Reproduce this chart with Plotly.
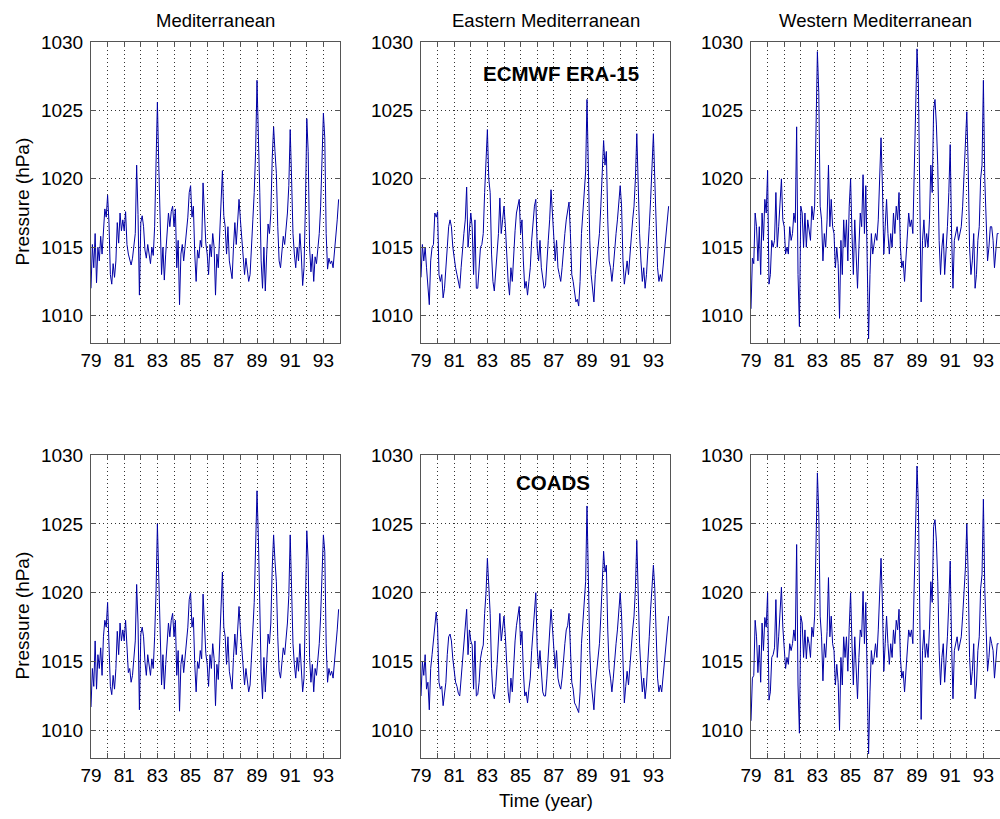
import plotly.graph_objects as go

# ---------------- data (monthly mean sea-level pressure, hPa, Jan 1979 - Dec 1993) ----------------
year_ticks = list(range(79, 95))
year_labels = ["79", "", "81", "", "83", "", "85", "", "87", "", "89", "", "91", "", "93", ""]
pressure_ticks = [1010, 1015, 1020, 1025, 1030]
region_titles = ["Mediterranean", "Eastern Mediterranean", "Western Mediterranean"]
dataset_labels = ["ECMWF ERA-15", "COADS"]

era_med = [
    1012.0, 1015.2, 1013.5, 1016.0, 1012.4, 1015.0, 1014.0, 1015.8, 1014.5, 1016.5, 1017.8, 1017.2,
    1018.8, 1016.8, 1013.0, 1012.3, 1013.8, 1012.8, 1014.0, 1016.8, 1015.3, 1017.5, 1016.2, 1017.0,
    1016.2, 1017.6, 1015.2, 1014.5, 1014.0, 1013.7, 1014.2, 1015.2, 1016.0, 1021.0, 1017.4, 1011.5,
    1016.8, 1017.3, 1016.5, 1014.8, 1014.2, 1015.2, 1014.5, 1013.8, 1015.0, 1014.4, 1016.5, 1020.5,
    1025.6, 1021.0, 1017.5, 1013.0, 1015.0, 1012.6, 1014.5, 1016.0, 1017.5, 1016.5, 1017.6, 1018.0,
    1016.5, 1017.8, 1013.5, 1015.5, 1010.8, 1014.5, 1015.2, 1014.0, 1015.0, 1016.0, 1017.2, 1019.0,
    1019.5, 1017.2, 1018.0, 1014.5, 1012.5, 1014.8, 1014.2, 1015.5, 1015.0, 1019.7, 1017.5, 1015.3,
    1014.5, 1013.0, 1015.2, 1014.3, 1016.0, 1015.0, 1011.5, 1014.5, 1013.5, 1016.0, 1018.0, 1020.6,
    1017.3, 1016.5, 1014.5, 1016.5, 1014.0, 1013.2, 1012.7, 1015.0, 1016.8, 1015.2, 1017.2, 1018.5,
    1017.0, 1015.5, 1014.0, 1013.0, 1014.2, 1013.5, 1012.5, 1013.0, 1015.5, 1017.0, 1019.0, 1022.0,
    1027.2, 1023.8, 1019.0, 1014.0, 1012.0, 1015.0, 1011.8, 1014.5, 1016.7, 1016.0, 1017.5, 1021.5,
    1023.8, 1022.0, 1020.4, 1016.5, 1014.0, 1013.5, 1014.8, 1015.8, 1015.2, 1016.3, 1017.5, 1019.5,
    1023.6, 1020.0, 1016.0, 1014.5, 1013.5, 1015.0, 1014.0, 1016.0, 1014.5, 1012.2, 1013.5, 1018.0,
    1024.4, 1022.0, 1015.0, 1013.2, 1014.5, 1012.5, 1014.3, 1013.8, 1015.0, 1016.0, 1018.0, 1021.0,
    1024.8, 1023.0, 1016.0, 1013.4, 1014.2, 1013.8, 1014.0, 1013.5, 1014.5, 1015.5, 1017.0, 1018.5,
]

era_east = [
    1012.8, 1015.2, 1014.0, 1015.0, 1013.5, 1012.0, 1010.8, 1014.0, 1015.0, 1015.2, 1017.5, 1017.2,
    1017.6, 1013.0, 1012.5, 1013.0, 1011.3, 1012.0, 1013.5, 1015.0, 1016.5, 1017.0, 1016.5, 1015.0,
    1014.0, 1013.5, 1013.0, 1012.5, 1012.0, 1013.5, 1015.0, 1016.0, 1017.0, 1019.4, 1015.0, 1016.5,
    1017.5, 1016.5, 1013.0, 1017.0, 1012.0, 1012.0, 1013.5, 1015.0, 1015.2, 1016.0, 1019.0, 1021.0,
    1023.6, 1020.0, 1019.0, 1014.5, 1012.5, 1011.8, 1013.0, 1014.5, 1016.0, 1018.6, 1016.0, 1017.0,
    1018.0, 1016.5, 1014.0, 1012.5, 1011.5, 1013.5, 1012.5, 1015.0, 1016.2, 1017.5, 1018.0, 1018.5,
    1016.0, 1017.0, 1014.0, 1012.0, 1012.5, 1011.5, 1012.5, 1013.5, 1015.5, 1017.0, 1018.0, 1018.5,
    1015.0, 1014.0, 1015.5, 1013.5, 1012.5, 1012.0, 1012.2, 1013.5, 1015.5, 1017.0, 1019.2, 1017.5,
    1016.0, 1014.0, 1015.5, 1013.5, 1013.0, 1012.5, 1013.5, 1015.0, 1016.0, 1017.0, 1017.8, 1018.3,
    1016.0, 1013.0, 1012.5, 1011.5, 1011.0, 1011.2, 1010.7, 1012.5, 1016.0, 1017.5, 1019.0, 1020.5,
    1025.8, 1019.0, 1015.5, 1013.0, 1012.0, 1011.0, 1013.0, 1014.0, 1015.0, 1016.0, 1018.0, 1020.5,
    1022.8, 1021.0, 1022.0, 1017.0, 1014.0, 1013.5, 1012.5, 1013.5, 1015.0, 1016.0, 1017.0, 1018.5,
    1019.5, 1018.0, 1014.0, 1012.3, 1013.0, 1014.0, 1013.0, 1014.5, 1015.5, 1017.0, 1018.0, 1020.0,
    1023.3, 1019.0, 1016.0, 1014.0, 1012.5, 1013.5, 1012.0, 1013.0, 1014.5, 1016.5, 1018.5, 1020.5,
    1023.3, 1020.0, 1016.0, 1013.5, 1012.5, 1013.0, 1012.5, 1013.5, 1014.5, 1015.5, 1017.0, 1018.0,
]

era_west = [
    1010.5, 1014.2, 1013.8, 1017.5, 1016.5, 1014.0, 1016.5, 1013.0, 1017.5, 1015.5, 1018.5, 1017.5,
    1020.6, 1012.3, 1013.0, 1015.5, 1015.0, 1015.5, 1019.0, 1015.0, 1016.5, 1018.0, 1020.0, 1017.0,
    1016.5, 1014.5, 1015.0, 1014.5, 1016.5, 1015.5, 1016.0, 1017.5, 1016.8, 1023.8, 1013.0, 1009.2,
    1018.0, 1017.5, 1015.0, 1017.5, 1015.0, 1017.0, 1016.0, 1015.5, 1018.0, 1017.0, 1018.0, 1024.0,
    1029.3, 1026.3, 1018.0, 1017.0, 1014.0, 1016.0, 1015.0, 1017.0, 1021.0, 1016.5, 1018.5, 1016.5,
    1016.0, 1013.5, 1015.0, 1013.8, 1009.8, 1015.5, 1013.0, 1017.0, 1015.0, 1017.0, 1014.0, 1018.0,
    1020.0, 1016.0, 1013.0, 1017.0, 1014.0, 1012.0, 1015.0, 1017.5, 1016.5, 1020.3, 1016.0, 1019.5,
    1014.0, 1008.3, 1013.0, 1016.0, 1014.5, 1015.5, 1016.0, 1015.5, 1017.0, 1020.0, 1023.0, 1019.5,
    1014.5, 1016.5, 1018.5, 1016.0, 1014.5, 1016.0, 1015.0, 1017.5, 1016.0, 1018.0, 1017.0, 1019.0,
    1015.0, 1013.5, 1014.0, 1012.5, 1014.0, 1016.0, 1017.5, 1016.5, 1017.0, 1016.0, 1021.0, 1025.0,
    1029.5, 1027.0, 1018.0, 1011.0, 1015.5, 1017.0, 1015.0, 1016.0, 1015.0, 1017.0, 1021.0, 1019.0,
    1025.0, 1025.8, 1024.0, 1021.0, 1015.5, 1013.0, 1015.0, 1016.0, 1013.0, 1014.5, 1016.5, 1019.0,
    1022.5, 1016.0, 1012.0, 1015.5, 1016.0, 1016.5, 1015.5, 1016.0, 1016.5, 1018.0, 1020.0, 1022.0,
    1024.9, 1021.0, 1015.0, 1013.0, 1014.0, 1016.0, 1012.0, 1013.0, 1015.5, 1016.5, 1020.0, 1021.0,
    1027.2, 1020.0, 1017.0, 1014.0, 1015.0, 1016.5, 1016.5, 1015.5, 1013.5, 1015.0, 1016.0, 1016.0,
]

coads_med = [
    1011.7, 1014.5, 1013.2, 1016.5, 1013.0, 1015.5, 1014.5, 1016.0, 1014.0, 1016.8, 1018.0, 1017.5,
    1019.3, 1016.5, 1013.2, 1012.6, 1014.0, 1013.0, 1014.5, 1017.2, 1015.5, 1017.8, 1016.5, 1017.3,
    1016.5, 1018.0, 1015.5, 1014.2, 1014.5, 1013.5, 1014.0, 1015.0, 1016.5, 1020.6, 1017.8, 1011.5,
    1017.0, 1017.5, 1016.8, 1015.0, 1014.0, 1015.5, 1014.8, 1014.0, 1015.2, 1014.5, 1016.8, 1020.0,
    1025.0, 1020.5, 1017.8, 1013.3, 1015.5, 1013.0, 1014.8, 1016.2, 1017.8, 1016.8, 1018.0, 1018.5,
    1016.8, 1018.0, 1014.0, 1015.8, 1011.4, 1014.8, 1015.5, 1014.2, 1015.4, 1016.2, 1017.5, 1019.5,
    1020.0, 1017.5, 1018.2, 1014.8, 1012.8, 1015.0, 1014.5, 1015.8, 1015.2, 1019.9, 1017.8, 1015.6,
    1014.8, 1013.2, 1015.5, 1014.5, 1016.3, 1015.2, 1011.8, 1014.8, 1013.7, 1016.3, 1018.5, 1021.5,
    1017.5, 1016.8, 1014.8, 1016.8, 1014.3, 1013.5, 1013.0, 1015.3, 1017.0, 1015.5, 1017.5, 1019.0,
    1017.3, 1015.8, 1014.3, 1013.3, 1014.5, 1013.8, 1012.8, 1013.3, 1015.8, 1017.3, 1019.3, 1022.5,
    1027.4, 1024.0, 1019.3, 1014.3, 1012.3, 1015.3, 1012.8, 1014.8, 1017.0, 1016.3, 1017.8, 1021.8,
    1024.2, 1022.3, 1020.8, 1016.8, 1014.3, 1013.8, 1015.0, 1016.0, 1015.5, 1016.6, 1017.8, 1019.8,
    1024.2, 1020.3, 1016.3, 1014.8, 1013.8, 1015.3, 1014.3, 1016.3, 1014.8, 1012.8, 1013.8, 1018.3,
    1024.5, 1022.3, 1015.3, 1013.5, 1014.8, 1012.8, 1014.5, 1014.0, 1015.3, 1016.3, 1018.3, 1021.3,
    1024.2, 1023.0, 1016.3, 1013.5, 1014.5, 1014.0, 1014.3, 1013.8, 1014.8, 1015.8, 1017.3, 1018.8,
]

coads_east = [
    1012.5, 1015.0, 1014.0, 1015.5, 1013.0, 1013.5, 1011.5, 1014.5, 1015.5, 1016.5, 1018.0, 1018.6,
    1017.5, 1013.5, 1013.0, 1013.2, 1011.8, 1012.5, 1013.5, 1015.5, 1016.8, 1017.0, 1016.5, 1015.2,
    1014.2, 1013.5, 1013.2, 1012.7, 1012.5, 1013.8, 1015.2, 1016.5, 1017.2, 1018.8, 1015.5, 1017.3,
    1016.5, 1016.2, 1013.0, 1016.5, 1012.5, 1012.6, 1013.5, 1015.2, 1015.8, 1016.2, 1018.5, 1020.0,
    1022.5, 1020.0, 1018.5, 1014.5, 1012.7, 1012.3, 1013.2, 1014.8, 1016.3, 1018.5, 1016.5, 1017.3,
    1018.3, 1016.8, 1014.3, 1012.8, 1012.0, 1013.8, 1012.8, 1015.3, 1016.5, 1017.6, 1018.3, 1019.0,
    1016.2, 1017.2, 1014.3, 1012.5, 1012.8, 1012.0, 1013.0, 1013.8, 1015.8, 1017.3, 1018.3, 1020.0,
    1016.0, 1014.5, 1015.8, 1013.8, 1012.8, 1012.5, 1012.5, 1013.8, 1015.8, 1017.3, 1018.8, 1017.5,
    1016.3, 1014.5, 1015.8, 1013.8, 1013.3, 1013.0, 1013.8, 1015.3, 1016.3, 1017.3, 1017.6, 1018.5,
    1016.3, 1013.5, 1013.0, 1012.0, 1011.8, 1011.5, 1011.3, 1012.8, 1016.3, 1017.8, 1019.3, 1020.8,
    1026.3, 1019.5, 1015.8, 1013.5, 1012.5, 1011.5, 1013.3, 1014.3, 1015.3, 1016.3, 1018.3, 1020.8,
    1023.0, 1021.5, 1022.0, 1017.3, 1014.5, 1013.8, 1012.8, 1013.8, 1015.3, 1016.3, 1017.3, 1018.8,
    1020.0, 1018.3, 1014.3, 1012.0, 1013.2, 1014.3, 1013.3, 1014.8, 1015.8, 1017.3, 1018.3, 1020.3,
    1023.8, 1019.3, 1016.3, 1014.3, 1012.8, 1013.8, 1012.3, 1013.3, 1014.8, 1016.8, 1018.8, 1020.8,
    1022.0, 1020.3, 1016.3, 1013.8, 1012.8, 1013.3, 1012.8, 1013.8, 1014.8, 1015.8, 1017.3, 1018.3,
]

coads_west = [
    1010.7, 1013.8, 1014.0, 1018.0, 1016.8, 1014.2, 1016.2, 1013.5, 1017.8, 1015.8, 1018.2, 1017.5,
    1020.0, 1012.2, 1012.8, 1015.3, 1015.5, 1016.0, 1019.5, 1015.3, 1016.8, 1018.3, 1020.4, 1017.5,
    1016.3, 1014.5, 1015.3, 1014.8, 1016.3, 1015.8, 1016.3, 1017.3, 1016.5, 1023.5, 1013.3, 1009.8,
    1018.3, 1017.8, 1015.3, 1017.3, 1015.2, 1016.8, 1016.3, 1015.3, 1017.5, 1016.8, 1018.3, 1023.8,
    1028.7, 1025.8, 1018.3, 1016.8, 1013.6, 1016.3, 1015.3, 1017.2, 1021.1, 1016.8, 1018.3, 1016.3,
    1015.8, 1013.3, 1014.8, 1013.5, 1010.0, 1015.3, 1013.3, 1016.8, 1015.3, 1016.8, 1014.3, 1017.5,
    1020.0, 1016.3, 1013.3, 1016.8, 1014.3, 1012.3, 1015.3, 1017.3, 1016.8, 1020.1, 1016.3, 1019.3,
    1013.8, 1008.3, 1012.8, 1015.8, 1014.8, 1015.3, 1016.3, 1015.3, 1017.3, 1019.8, 1022.5, 1019.3,
    1014.3, 1016.3, 1018.3, 1016.3, 1014.8, 1016.3, 1015.3, 1017.3, 1016.3, 1018.0, 1017.3, 1018.8,
    1015.3, 1013.8, 1014.3, 1012.8, 1014.3, 1016.3, 1017.3, 1016.8, 1017.3, 1016.3, 1020.8, 1024.8,
    1029.2, 1026.5, 1018.3, 1010.8, 1015.8, 1017.3, 1015.3, 1016.3, 1015.3, 1017.3, 1020.8, 1019.3,
    1024.8, 1025.3, 1023.8, 1020.8, 1015.8, 1013.3, 1015.3, 1016.3, 1013.5, 1014.8, 1016.8, 1019.3,
    1022.3, 1016.3, 1012.3, 1015.8, 1016.3, 1016.8, 1015.8, 1016.3, 1016.8, 1018.3, 1020.3, 1021.8,
    1025.0, 1021.3, 1015.3, 1013.3, 1014.3, 1016.3, 1012.3, 1013.3, 1015.8, 1016.8, 1020.3, 1021.3,
    1026.8, 1020.3, 1017.3, 1014.3, 1015.3, 1016.8, 1016.3, 1015.8, 1013.8, 1015.3, 1016.3, 1016.3,
]

# ---------------- figure ----------------
FONT = "Liberation Sans, Arial, Helvetica, sans-serif"
W, H = 1000, 819

time = [79 + i / 12 for i in range(len(era_med))]
series = [era_med, era_east, era_west, coads_med, coads_east, coads_west]

# pixel layout of the panels
col_px = [(91, 340), (421, 670), (751, 1000)]
row_px = [(42, 343), (455, 758)]

fig = go.Figure()
layout = dict(
    template="none",
    width=W, height=H, autosize=False,
    margin=dict(l=0, r=0, t=0, b=0, pad=0, autoexpand=False),
    paper_bgcolor="white", plot_bgcolor="white",
    showlegend=False,
    font=dict(family=FONT, size=19, color="black"),
)

for k, ys in enumerate(series):
    r, c = divmod(k, 3)
    idx = k + 1
    xname = "x" if idx == 1 else f"x{idx}"
    yname = "y" if idx == 1 else f"y{idx}"
    fig.add_trace(go.Scatter(
        x=time, y=ys, mode="lines", xaxis=xname, yaxis=yname,
        line=dict(color="rgb(0,0,165)", width=1.0), hoverinfo="skip",
    ))
    x0, x1 = col_px[c]
    y0, y1 = row_px[r]
    common = dict(
        showgrid=True, gridcolor="#333", gridwidth=1, griddash="1px,3px",
        showline=True, linecolor="#555", linewidth=1, mirror="ticks",
        ticks="inside", ticklen=5, tickcolor="#555",
        zeroline=False, fixedrange=True, automargin=False,
        tickfont=dict(family=FONT, size=19, color="black"),
    )
    layout["xaxis" if idx == 1 else f"xaxis{idx}"] = dict(
        common, domain=[x0 / W, x1 / W], range=[79, 94],
        tickmode="array", tickvals=year_ticks, ticktext=year_labels,
        anchor=yname, ticklabelstandoff=0,
    )
    layout["yaxis" if idx == 1 else f"yaxis{idx}"] = dict(
        common, domain=[1 - y1 / H, 1 - y0 / H], range=[1008, 1030],
        tickmode="array", tickvals=pressure_ticks,
        anchor=xname, ticklabelstandoff=3,
    )

annotations = []
for c, t in enumerate(region_titles):
    x0, x1 = col_px[c]
    annotations.append(dict(
        text=t, xref="paper", yref="paper", x=(x0 + x1) / 2 / W, y=1 - 20 / H,
        showarrow=False, xanchor="center", yanchor="middle",
        font=dict(family=FONT, size=18.5, color="black"),
    ))
for r in range(2):
    y0, y1 = row_px[r]
    annotations.append(dict(
        text="Pressure (hPa)", xref="paper", yref="paper", x=22 / W,
        y=1 - ((y0 + y1) / 2 + 9) / H, textangle=-90, showarrow=False,
        xanchor="center", yanchor="middle",
        font=dict(family=FONT, size=19, color="black"),
    ))
annotations.append(dict(
    text="Time (year)", xref="paper", yref="paper", x=(col_px[1][0] + col_px[1][1]) / 2 / W,
    y=1 - 800 / H, showarrow=False, xanchor="center", yanchor="middle",
    font=dict(family=FONT, size=18.5, color="black"),
))
annotations.append(dict(
    text="<b>%s</b>" % dataset_labels[0], xref="paper", yref="paper", x=561 / W, y=1 - 73 / H,
    showarrow=False, xanchor="center", yanchor="middle",
    font=dict(family=FONT, size=20.5, color="black"),
))
annotations.append(dict(
    text="<b>%s</b>" % dataset_labels[1], xref="paper", yref="paper", x=553 / W, y=1 - 482 / H,
    showarrow=False, xanchor="center", yanchor="middle",
    font=dict(family=FONT, size=20.5, color="black"),
))
layout["annotations"] = annotations

fig.update_layout(**layout)
fig.write_html(
    "out.html",
    config={"displayModeBar": False},
    post_script="document.body.style.margin='0';document.body.style.overflow='hidden';",
)
